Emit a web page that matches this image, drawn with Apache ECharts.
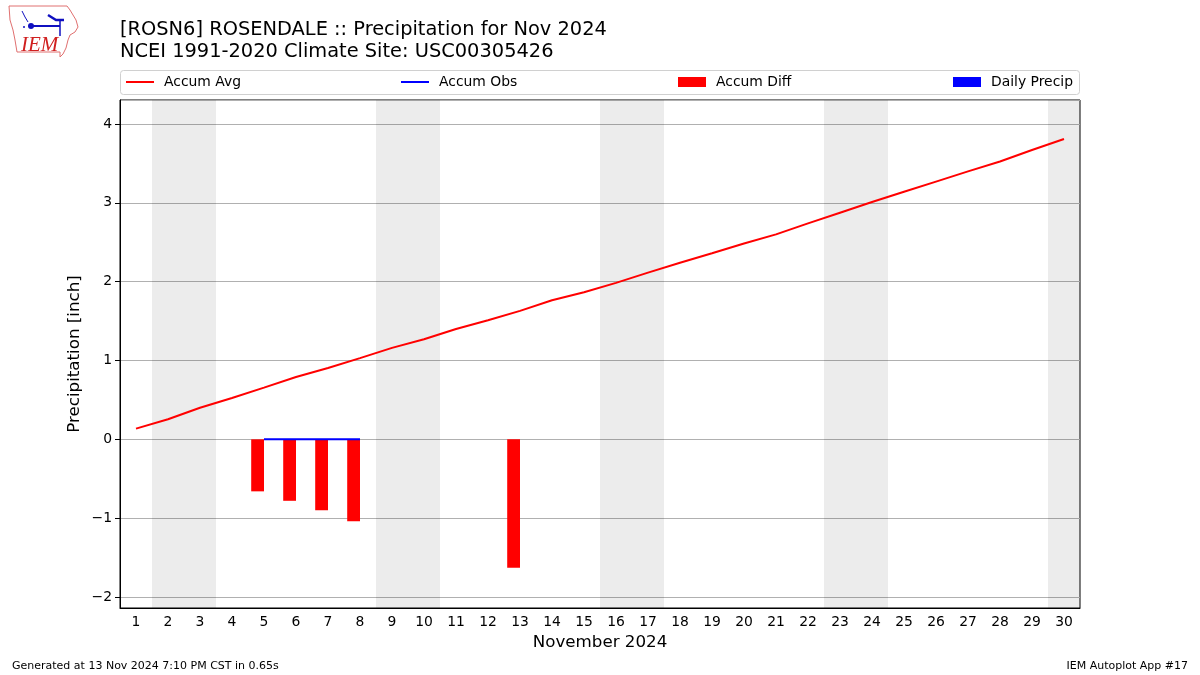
<!DOCTYPE html>
<html>
<head>
<meta charset="utf-8">
<script src="https://cdn.jsdelivr.net/npm/echarts@6/dist/echarts.min.js"></script>
<style>html,body{margin:0;padding:0;background:#fff}#c{width:1200px;height:675px}</style>
</head>
<body>
<div id="c"></div>
<script>
// ---- data ----
const days = ['1','2','3','4','5','6','7','8','9','10','11','12','13','14','15','16','17','18','19','20','21','22','23','24','25','26','27','28','29','30'];
const accumAvg = [0.136,0.254,0.40,0.525,0.656,0.79,0.905,1.03,1.16,1.27,1.40,1.51,1.63,1.765,1.865,1.985,2.115,2.24,2.36,2.485,2.60,2.74,2.875,3.01,3.14,3.27,3.40,3.525,3.67,3.81];
const accumObs = [null,null,null,null,0,0,0,0,null,null,null,null,0,null,null,null,null,null,null,null,null,null,null,null,null,null,null,null,null,null];
const accumDiff = [null,null,null,null,-0.66,-0.78,-0.90,-1.04,null,null,null,null,-1.63,null,null,null,null,null,null,null,null,null,null,null,null,null,null,null,null,null];
const dailyPrecip = [null,null,null,null,0,0,0,0,null,null,null,null,0,null,null,null,null,null,null,null,null,null,null,null,null,null,null,null,null,null];
const yTicks = [-2,-1,0,1,2,3,4];

// weekend spans (Nov 2024)
const weekendSpans = [];
let run = null;
days.forEach((d, i) => {
  const dow = new Date(2024, 10, Number(d)).getDay();
  const we = dow === 0 || dow === 6;
  if (we) { if (!run) run = [i + 0.5, i + 1.5]; else run[1] = i + 1.5; }
  else if (run) { weekendSpans.push(run); run = null; }
});
if (run) weekendSpans.push(run);

const FONT = 'DejaVu Sans';
const chart = echarts.init(document.getElementById('c'), null, {renderer: 'canvas'});
const minus = v => String(v).replace('-', '\u2212');
const legText = {fontFamily: FONT, fontSize: 13.9, color: '#000', padding: [0,0,0,5]};

chart.setOption({
  animation: false,
  backgroundColor: '#fff',
  textStyle: {fontFamily: FONT},
  grid: {left: 120, right: 120, top: 100, bottom: 67, show: true, borderColor: '#000', borderWidth: 1, backgroundColor: 'transparent'},
  legend: [
    {data: ['Accum Avg'], left: 126, top: 75, padding: 0, icon: 'rect', itemWidth: 28, itemHeight: 2, selectedMode: false, textStyle: legText},
    {data: ['Accum Obs'], left: 401, top: 75, padding: 0, icon: 'rect', itemWidth: 28, itemHeight: 2, selectedMode: false, textStyle: legText},
    {data: ['Accum Diff'], left: 678, top: 75, padding: 0, icon: 'rect', itemWidth: 28, itemHeight: 10, selectedMode: false, textStyle: legText},
    {data: ['Daily Precip'], left: 953, top: 75, padding: 0, icon: 'rect', itemWidth: 28, itemHeight: 10, selectedMode: false, textStyle: legText}
  ],
  xAxis: [
    {type: 'category', data: days, boundaryGap: true,
     name: 'November 2024', nameLocation: 'middle', nameGap: 26,
     nameTextStyle: {fontFamily: FONT, fontSize: 16.7, color: '#000'},
     axisLine: {onZero: false, lineStyle: {color: '#000'}},
     axisTick: {alignWithLabel: true, length: 5, lineStyle: {color: '#000'}},
     axisLabel: {interval: 0, color: '#000', fontSize: 13.9, fontFamily: FONT, margin: 7},
     splitLine: {show: false}},
    {type: 'value', min: 0.5, max: 30.5, show: false}
  ],
  yAxis: {
    type: 'value', min: -2.14, max: 4.305, minInterval: 1, maxInterval: 1,
    name: 'Precipitation [inch]', nameLocation: 'middle', nameGap: 37, nameMoveOverlap: false,
    nameTextStyle: {fontFamily: FONT, fontSize: 16.7, color: '#000'},
    axisLine: {show: true, onZero: false, lineStyle: {color: '#000'}},
    axisTick: {show: true, length: 5, lineStyle: {color: '#000'}},
    axisLabel: {color: '#000', fontSize: 13.9, fontFamily: FONT, margin: 8, showMinLabel: false, showMaxLabel: false,
      formatter: v => yTicks.includes(v) ? minus(v) : ''},
    splitLine: {show: true, lineStyle: {color: '#b0b0b0', width: 1}}
  },
  series: [
    {name: 'weekend', type: 'line', xAxisIndex: 1, data: [], silent: true,
     markArea: {silent: true, itemStyle: {color: 'rgba(0,0,0,0.075)'},
       data: weekendSpans.map(s => [{xAxis: s[0]}, {xAxis: Math.min(s[1], 30.5)}])}},
    {name: 'Accum Diff', type: 'bar', data: accumDiff, barWidth: 12.8, barGap: '0%', itemStyle: {color: '#ff0000'}, z: 3},
    {name: 'Daily Precip', type: 'bar', data: dailyPrecip, barWidth: 12.8, barGap: '0%', itemStyle: {color: '#0000ff'}, z: 3},
    {name: 'Accum Avg', type: 'line', data: accumAvg, symbol: 'none', color: '#ff0000', lineStyle: {color: '#ff0000', width: 2}, z: 4},
    {name: 'Accum Obs', type: 'line', data: accumObs, symbol: 'none', connectNulls: false, color: '#0000ff', lineStyle: {color: '#0000ff', width: 2}, z: 5}
  ],
  graphic: [
    {type: 'rect', z: 0, shape: {x: 120.5, y: 70.5, width: 959, height: 24, r: 3}, style: {fill: 'none', stroke: '#d0d0d0', lineWidth: 1}},
    {type: 'text', left: 120, top: 20, style: {text: '[ROSN6] ROSENDALE :: Precipitation for Nov 2024', font: '19.4px "DejaVu Sans"', fill: '#000'}},
    {type: 'text', left: 120, top: 42, style: {text: 'NCEI 1991-2020 Climate Site: USC00305426', font: '19.4px "DejaVu Sans"', fill: '#000'}},
    {type: 'text', left: 12, top: 661, style: {text: 'Generated at 13 Nov 2024 7:10 PM CST in 0.65s', font: '11px "DejaVu Sans"', fill: '#000'}},
    {type: 'text', right: 12, top: 661, style: {text: 'IEM Autoplot App #17', font: '11px "DejaVu Sans"', fill: '#000'}},
    // IEM logo (approximate)
    {type: 'polyline', shape: {points: [[9,6],[67,6],[70,10],[73,15],[76,20],[78,27],[75,32],[70,35],[68,40],[66,48],[63,54],[60,57],[60,52],[17,52],[15,40],[13,30],[10,20],[9,6]]}, style: {stroke: '#e07070', fill: 'none', lineWidth: 1}},
    {type: 'polyline', shape: {points: [[30,26],[60,26]]}, style: {stroke: '#1010c0', lineWidth: 2, fill: 'none'}},
    {type: 'polyline', shape: {points: [[48,15],[56,20],[64,20]]}, style: {stroke: '#1010c0', lineWidth: 2.5, fill: 'none'}},
    {type: 'polyline', shape: {points: [[60,20],[60,36]]}, style: {stroke: '#1010c0', lineWidth: 1.5, fill: 'none'}},
    {type: 'polyline', shape: {points: [[22,11],[25,17],[28,22]]}, style: {stroke: '#1010c0', lineWidth: 1, fill: 'none'}},
    {type: 'circle', shape: {cx: 31, cy: 26, r: 3}, style: {fill: '#1010c0'}},
    {type: 'circle', shape: {cx: 24, cy: 27, r: 1}, style: {fill: '#1010c0'}},
    {type: 'text', left: 21, top: 35, style: {text: 'IEM', font: 'italic 21px "Liberation Serif"', fill: '#d02020'}}
  ]
});
</script>
</body>
</html>
